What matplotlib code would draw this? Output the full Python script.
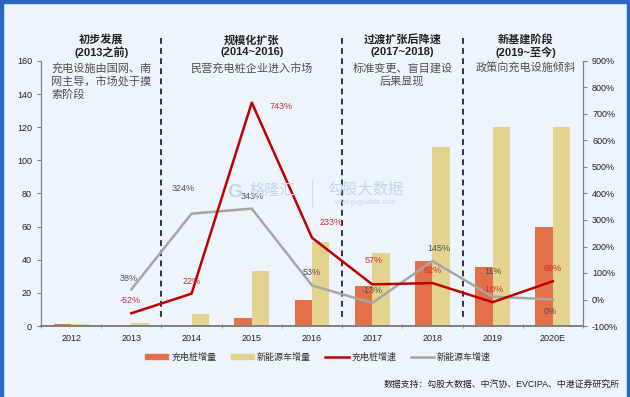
import matplotlib
matplotlib.use("Agg")
import matplotlib.pyplot as plt
import numpy as np
from matplotlib.transforms import blended_transform_factory
from matplotlib.patches import Rectangle, Patch
from matplotlib.lines import Line2D

plt.rcParams['font.family'] = ['Liberation Sans', 'Noto Sans CJK SC', 'DejaVu Sans']

# ---------------- data ----------------
years = ['2012', '2013', '2014', '2015', '2016', '2017', '2018', '2019', '2020E']
pile_increase = [1.0, 0.6, 0.8, 4.6, 15.4, 24.3, 39.2, 35.4, 60.0]
nev_increase = [1.3, 1.8, 7.4, 33.0, 50.6, 44.0, 108.0, 120.0, 120.0]
pile_growth_years = ['2013', '2014', '2015', '2016', '2017', '2018', '2019', '2020E']
pile_growth = [-52, 22, 743, 233, 57, 62, -10, 69]
nev_growth = [38, 324, 343, 53, -13, 145, 11, 0]
left_ticks = [0, 20, 40, 60, 80, 100, 120, 140, 160]
right_ticks = [-100, 0, 100, 200, 300, 400, 500, 600, 700, 800, 900]
phase_titles = ['初步发展\n(2013之前)', '规模化扩张\n(2014~2016)', '过渡扩张后降速\n(2017~2018)', '新基建阶段\n(2019~至今)']
phase_desc = ['充电设施由国网、南\n网主导，市场处于摸\n索阶段', '民营充电桩企业进入市场',
              '标准变更、盲目建设\n后果显现', '政策向充电设施倾斜']
legend_labels = ['充电桩增量', '新能源车增量', '充电桩增速', '新能源车增速']
source_text = '数据支持：勾股大数据、中汽协、EVCIPA、中港证券研究所'

# ---------------- styles ----------------
bg = '#EDF4FC'
c_pile = '#E4704A'
c_nev = '#E3D38E'
c_red = '#C00000'
c_gray = '#A6A6A6'
# label offsets in points (style only)
red_off = [(-1, 9), (0, 9), (21, -3), (14, 11), (1, 17), (0, 9), (0, 9), (0, 9)]
gray_off = [(-2, 8), (-6, 18), (0, 9), (0, 9), (0, 9), (5, 9), (0, 18), (-2, -9)]

fig = plt.figure(figsize=(6.3, 3.97), dpi=100, facecolor=bg)
ax = fig.add_axes([41/630, 1-326/397, (583-41)/630, (326-61)/397])
ax.set_facecolor('none')
ax2 = ax.twinx()

x = np.arange(len(years))
w = 0.29
ax.bar(x - w/2, pile_increase, w, color=c_pile, zorder=2)
ax.bar(x + w/2, nev_increase, w, color=c_nev, zorder=2)
ax.set_xlim(-0.5, len(years) - 0.5)
ax.set_ylim(0, 160)
ax.set_yticks(left_ticks)
ax.set_xticks(x)
ax.set_xticklabels(years)
ax.set_xticks(np.arange(len(years) + 1) - 0.5, minor=True)
ax.tick_params(axis='x', which='major', length=0, labelsize=6.5, pad=6, colors='#222222')
ax.tick_params(axis='x', which='minor', length=3, direction='inout', color='#808080')
ax.tick_params(axis='y', labelsize=6.5, length=3, color='#808080', labelcolor='#222222')

gx = np.array([years.index(y) for y in pile_growth_years])
ax2.plot(gx, pile_growth, color=c_red, lw=1.8, zorder=4)
ax2.plot(gx, nev_growth, color=c_gray, lw=1.8, zorder=3)
ax2.set_ylim(-100, 900)
ax2.set_yticks(right_ticks)
ax2.set_yticklabels([f'{t}%' for t in right_ticks])
ax2.tick_params(axis='y', labelsize=6.5, length=3, color='#808080', labelcolor='#222222')

for a in (ax, ax2):
    a.spines['top'].set_visible(False)
    for s in ('left', 'right', 'bottom'):
        a.spines[s].set_color('#808080')
    a.spines['left'].set_linewidth(0.8)
    a.spines['right'].set_linewidth(0.8)
    a.spines['bottom'].set_linewidth(1.2)

for xi, v, off in zip(gx, pile_growth, red_off):
    ax2.annotate(f'{v}%', (xi, v), xytext=off, textcoords='offset points',
                 ha='center', va='center', fontsize=6.5, color='#C83030', zorder=6)
for xi, v, off in zip(gx, nev_growth, gray_off):
    ax2.annotate(f'{v}%', (xi, v), xytext=off, textcoords='offset points',
                 ha='center', va='center', fontsize=6.5, color='#505050', zorder=6)

# phase dividers
tr = blended_transform_factory(ax.transData, fig.transFigure)
for xd in (1.5, 4.5, 6.5):
    ax.add_line(Line2D([xd, xd], [1-38/397, 1-318/397], transform=tr, color='#333333',
                       lw=1.4, ls=(0, (3, 2.2)), clip_on=False, zorder=5))

# phase texts
title_x = [0.5, 3.0, 5.5, 7.55]
for tx, t in zip(title_x, phase_titles):
    ax.text(tx, 1-46/397, t, transform=tr, ha='center', va='center', fontsize=8,
            fontweight='bold', color='#222222', linespacing=1.2)
ax.text(-0.33, 1-63/397, phase_desc[0], transform=tr, ha='left', va='top', fontsize=8,
        color='#505050', linespacing=1.25)
for tx, d in zip(title_x[1:], phase_desc[1:]):
    ax.text(tx, 1-63/397, d, transform=tr, ha='center', va='top', fontsize=8,
            color='#505050', linespacing=1.25)

# watermark
fig.text(235/630, 1-192/397, 'G', fontsize=14, fontweight='bold', color='#C3D4EA',
         ha='center', va='center', zorder=0)
fig.text(272/630, 1-191/397, '格隆汇', fontsize=11, color='#C3D4EA', ha='center', va='center', zorder=0)
fig.add_artist(Line2D([312/630, 312/630], [1-180/397, 1-206/397], color='#D0DCEC', lw=0.8))
fig.text(365/630, 1-189/397, '勾股大数据', fontsize=11, color='#C3D4EA', ha='center', va='center', zorder=0)
fig.text(365/630, 1-203/397, 'www.gogudata.com', fontsize=5, color='#C3D4EA', ha='center', va='center', zorder=0)

# legend
handles = [Patch(color=c_pile), Patch(color=c_nev),
           Line2D([], [], color=c_red, lw=1.8), Line2D([], [], color=c_gray, lw=1.8)]
fig.legend(handles, legend_labels, loc='center', bbox_to_anchor=(318/630, 1-357/397), ncol=4,
           frameon=False, fontsize=6.5, handlelength=2.6, handleheight=0.6, columnspacing=1.6,
           handletextpad=0.3, labelcolor='#333333')

fig.text(620/630, 1-384/397, source_text, ha='right', va='center', fontsize=6.4, color='#222222')

# blue frame
fig.add_artist(Rectangle((0, 0), 3/630, 1, transform=fig.transFigure, color='#2A66C4'))
fig.add_artist(Rectangle((0, 1-2.5/397), 1, 2.5/397, transform=fig.transFigure, color='#2A66C4'))
fig.add_artist(Rectangle((1-3/630, 0), 3/630, 1, transform=fig.transFigure, color='#2A66C4'))

fig.savefig('out.png', dpi=100, facecolor=bg)
